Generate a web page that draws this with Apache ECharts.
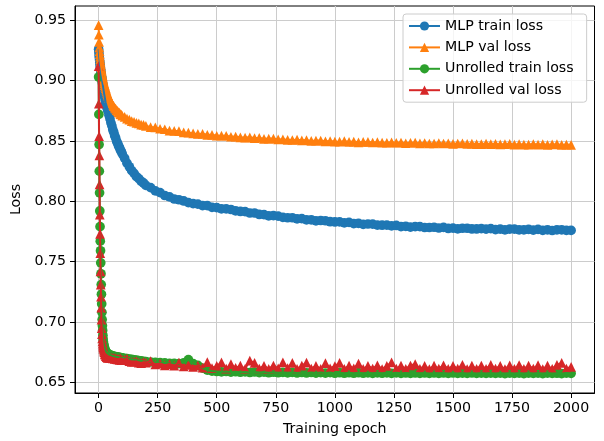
<!DOCTYPE html>
<html>
<head>
<meta charset="utf-8">
<script src="https://cdn.jsdelivr.net/npm/echarts@6/dist/echarts.min.js"></script>
<style>
html, body { margin: 0; padding: 0; background: #fff; }
#chart { width: 604px; height: 441px; }
</style>
</head>
<body>
<div id="chart"></div>
<script>
// sampled epochs: dense at the start where the curves fall fast
var epochs = [
    0, 1, 2, 3, 4, 5, 6, 7, 8, 9,
    10, 11, 12, 13, 14, 15, 16, 17, 18, 19,
    20,
    22, 24, 26, 28, 30, 32, 34, 36, 38, 40,
    44, 48, 52, 56, 60, 64, 68, 72, 76, 80, 84, 88, 92, 96, 100,
    110, 120, 130, 140, 150, 160, 170, 180, 190, 200,
    220, 240, 260, 280, 300, 320, 340, 360, 380, 400,
    420, 440, 460, 480, 500, 520, 540, 560, 580, 600,
    620, 640, 660, 680, 700, 720, 740, 760, 780, 800,
    820, 840, 860, 880, 900, 920, 940, 960, 980, 1000,
    1020, 1040, 1060, 1080, 1100, 1120, 1140, 1160, 1180, 1200,
    1220, 1240, 1260, 1280, 1300, 1320, 1340, 1360, 1380, 1400,
    1420, 1440, 1460, 1480, 1500, 1520, 1540, 1560, 1580, 1600,
    1620, 1640, 1660, 1680, 1700, 1720, 1740, 1760, 1780, 1800,
    1820, 1840, 1860, 1880, 1900, 1920, 1940, 1960, 1980, 2000
];

var mlpTrain = [
    0.926, 0.9236, 0.9213, 0.9191, 0.917, 0.915, 0.9131, 0.9113, 0.9096, 0.908,
    0.9065, 0.9051, 0.9037, 0.9024, 0.9011, 0.8998, 0.8985, 0.8972, 0.8959, 0.8946,
    0.8933,
    0.8907, 0.8884, 0.8861, 0.8838, 0.8815, 0.8801, 0.8787, 0.8773, 0.8759, 0.8745,
    0.8713, 0.8683, 0.8650, 0.8625, 0.8593, 0.8572, 0.8544, 0.8525, 0.8499, 0.8482, 0.8460, 0.8446, 0.8425, 0.8413, 0.8393,
    0.8357, 0.8316, 0.8286, 0.8254, 0.8232, 0.8204, 0.8188, 0.8166, 0.8152, 0.8132,
    0.8113, 0.8086, 0.8072, 0.8048, 0.8037, 0.8019, 0.8013, 0.8003, 0.7989, 0.7981,
    0.7977, 0.7965, 0.7964, 0.7950, 0.7948, 0.7937, 0.7937, 0.7932, 0.7921, 0.7916,
    0.7914, 0.7903, 0.7903, 0.7891, 0.7890, 0.7880, 0.7881, 0.7877, 0.7867, 0.7864,
    0.7864, 0.7855, 0.7857, 0.7846, 0.7847, 0.7838, 0.7841, 0.7839, 0.7831, 0.7829,
    0.7830, 0.7822, 0.7825, 0.7815, 0.7817, 0.7809, 0.7812, 0.7811, 0.7803, 0.7802,
    0.7803, 0.7796, 0.7800, 0.7791, 0.7793, 0.7786, 0.7790, 0.7790, 0.7783, 0.7783,
    0.7785, 0.7779, 0.7784, 0.7775, 0.7778, 0.7772, 0.7777, 0.7777, 0.7771, 0.7771,
    0.7774, 0.7769, 0.7774, 0.7766, 0.7769, 0.7764, 0.7769, 0.7769, 0.7764, 0.7764,
    0.7768, 0.7762, 0.7768, 0.7760, 0.7764, 0.7758, 0.7764, 0.7764, 0.7759, 0.7759
];

var mlpVal = [
    0.946, 0.938, 0.932, 0.9275, 0.9245, 0.922, 0.9198, 0.9178, 0.916, 0.9143,
    0.9127, 0.9112, 0.9098, 0.9085, 0.9072, 0.906, 0.9048, 0.9037, 0.9026, 0.9016,
    0.9006,
    0.8991, 0.8977, 0.8963, 0.895, 0.8937, 0.8924, 0.8911, 0.8898, 0.8886, 0.8875,
    0.8857, 0.8843, 0.8825, 0.8814, 0.8798, 0.8789, 0.8775, 0.8768, 0.8756, 0.8750, 0.8739, 0.8734, 0.8723, 0.8719, 0.8709,
    0.8699, 0.8685, 0.8677, 0.8664, 0.8659, 0.8649, 0.8645, 0.8636, 0.8633, 0.8625,
    0.8615, 0.8612, 0.8601, 0.8597, 0.8586, 0.8584, 0.8581, 0.8571, 0.8569, 0.8562,
    0.8558, 0.8559, 0.8551, 0.8551, 0.8543, 0.8544, 0.8543, 0.8535, 0.8536, 0.8530,
    0.8528, 0.8530, 0.8524, 0.8525, 0.8518, 0.8520, 0.8520, 0.8513, 0.8514, 0.8509,
    0.8508, 0.8511, 0.8505, 0.8507, 0.8500, 0.8503, 0.8503, 0.8497, 0.8499, 0.8495,
    0.8494, 0.8498, 0.8493, 0.8495, 0.8489, 0.8492, 0.8493, 0.8487, 0.8490, 0.8486,
    0.8485, 0.8489, 0.8485, 0.8487, 0.8481, 0.8485, 0.8486, 0.8480, 0.8483, 0.8479,
    0.8479, 0.8483, 0.8479, 0.8481, 0.8476, 0.8479, 0.8481, 0.8475, 0.8478, 0.8474,
    0.8474, 0.8478, 0.8474, 0.8476, 0.8471, 0.8474, 0.8476, 0.8470, 0.8473, 0.8470,
    0.8470, 0.8474, 0.8470, 0.8473, 0.8468, 0.8471, 0.8473, 0.8467, 0.8470, 0.8467
];

var unrolledTrain = [
    0.903, 0.872, 0.847, 0.825, 0.807, 0.792, 0.779, 0.767, 0.759, 0.749,
    0.740, 0.731, 0.723, 0.715, 0.708, 0.702, 0.697, 0.693, 0.689, 0.686,
    0.6838,
    0.6815, 0.6795, 0.678, 0.6768, 0.6758, 0.675, 0.6745, 0.674, 0.6737, 0.6735,
    0.6731, 0.6727, 0.6724, 0.6721, 0.6718, 0.6716, 0.6714, 0.6713, 0.6711, 0.6710, 0.6708, 0.6707, 0.6705, 0.6704, 0.6703,
    0.6700, 0.6697, 0.6693, 0.6690, 0.6687, 0.6684, 0.6681, 0.6678, 0.6675, 0.6673,
    0.6669, 0.6666, 0.6663, 0.6661, 0.6658, 0.6657, 0.6655, 0.6662, 0.6688, 0.6655,
    0.6641, 0.6618, 0.6601, 0.6594, 0.6590, 0.6587, 0.6590, 0.6585, 0.6588, 0.6584,
    0.6587, 0.6582, 0.6586, 0.6581, 0.6585, 0.6580, 0.6584, 0.6580, 0.6583, 0.6579,
    0.6583, 0.6578, 0.6582, 0.6578, 0.6582, 0.6577, 0.6581, 0.6577, 0.6581, 0.6576,
    0.6580, 0.6576, 0.6580, 0.6576, 0.6580, 0.6576, 0.6579, 0.6575, 0.6579, 0.6576,
    0.6579, 0.6575, 0.6579, 0.6575, 0.6578, 0.6575, 0.6578, 0.6575, 0.6578, 0.6574,
    0.6578, 0.6575, 0.6578, 0.6574, 0.6578, 0.6574, 0.6577, 0.6574, 0.6578, 0.6574,
    0.6577, 0.6574, 0.6577, 0.6574, 0.6577, 0.6573, 0.6577, 0.6574, 0.6577, 0.6573,
    0.6577, 0.6574, 0.6577, 0.6573, 0.6577, 0.6574, 0.6576, 0.6573, 0.6577, 0.6575
];

var unrolledVal = [
    0.912, 0.881, 0.854, 0.838, 0.814, 0.789, 0.773, 0.757, 0.742, 0.731,
    0.721, 0.712, 0.702, 0.695, 0.690, 0.6865, 0.684, 0.682, 0.6805, 0.679,
    0.6778,
    0.6762, 0.6750, 0.6736, 0.6730, 0.6720, 0.6718, 0.6709, 0.6712, 0.6703, 0.6708,
    0.6703, 0.6706, 0.6700, 0.6704, 0.6698, 0.6701, 0.6695, 0.6699, 0.6692, 0.6690, 0.6694, 0.6687, 0.6699, 0.6685, 0.6684,
    0.6688, 0.6697, 0.6676, 0.6670, 0.6672, 0.6675, 0.6664, 0.6660, 0.6668, 0.6664,
    0.6676, 0.6648, 0.6656, 0.6641, 0.6652, 0.6638, 0.6664, 0.6633, 0.6645, 0.6628,
    0.6640, 0.6622, 0.6668, 0.6618, 0.6636, 0.6665, 0.6614, 0.6652, 0.6620, 0.6638,
    0.6613, 0.6680, 0.6662, 0.6615, 0.6637, 0.6612, 0.6640, 0.6616, 0.6666, 0.6619,
    0.6661, 0.6613, 0.6638, 0.6664, 0.6615, 0.6636, 0.6612, 0.6660, 0.6617, 0.6635,
    0.6662, 0.6613, 0.6639, 0.6616, 0.6655, 0.6612, 0.6637, 0.6615, 0.6641, 0.6611,
    0.6636, 0.6666, 0.6614, 0.6638, 0.6612, 0.6640, 0.6652, 0.6613, 0.6637, 0.6611,
    0.6639, 0.6615, 0.6642, 0.6612, 0.6636, 0.6614, 0.6646, 0.6611, 0.6638, 0.6613,
    0.6640, 0.6612, 0.6645, 0.6614, 0.6637, 0.6611, 0.6641, 0.6613, 0.6644, 0.6612,
    0.6639, 0.6614, 0.6643, 0.6611, 0.6638, 0.6613, 0.6645, 0.6662, 0.6615, 0.6628
];

var xTicks = [0, 250, 500, 750, 1000, 1250, 1500, 1750, 2000];
var yTicks = [0.65, 0.70, 0.75, 0.80, 0.85, 0.90, 0.95];

var font = 'DejaVu Sans';
var fs = 14.2;

function pairs(vals) {
    return epochs.map(function (e, i) { return [e, vals[i]]; });
}

// line (legend icon + connecting line) and scatter (every marker) share a name
function lossSeries(name, vals, color, symbol) {
    return [
        {
            name: name,
            type: 'line',
            data: pairs(vals),
            symbol: symbol,
            symbolSize: 9.7,
            showSymbol: false,
            color: color,
            lineStyle: { color: color, width: 2 },
            itemStyle: { color: color, borderWidth: 0 },
            emphasis: { disabled: true },
            animation: false
        },
        {
            name: name,
            type: 'scatter',
            data: pairs(vals),
            symbol: symbol,
            symbolSize: 9.7,
            color: color,
            itemStyle: { color: color, opacity: 1, borderWidth: 0 },
            emphasis: { disabled: true },
            animation: false
        }
    ];
}

var chart = echarts.init(document.getElementById('chart'));
var option = {
    backgroundColor: '#fff',
    animation: false,
    grid: {
        left: 75, right: 9.5, top: 6, bottom: 47,
        show: true, borderColor: '#000', borderWidth: 1
    },
    legend: {
        orient: 'vertical',
        left: 403, top: 14,
        padding: [4, 13, 4, 5],
        itemWidth: 31, itemHeight: 11.5, itemGap: 5.4, itemTextGap: 12,
        backgroundColor: 'rgba(255,255,255,0.8)',
        borderColor: '#cccccc', borderWidth: 1, borderRadius: 3,
        textStyle: { fontFamily: font, fontSize: fs, color: '#000', lineHeight: 16 },
        data: ['MLP train loss', 'MLP val loss', 'Unrolled train loss', 'Unrolled val loss']
    },
    xAxis: {
        type: 'value',
        min: -100, max: 2099,
        name: 'Training epoch', nameLocation: 'middle', nameGap: 29,
        nameTextStyle: { fontFamily: font, fontSize: fs, color: '#000' },
        axisLine: { show: true, onZero: false, lineStyle: { color: '#000', width: 1 } },
        axisTick: { show: true, customValues: xTicks, length: 5, lineStyle: { color: '#000', width: 1 } },
        axisLabel: {
            customValues: xTicks, color: '#000', fontFamily: font, fontSize: fs, margin: 8,
            formatter: function (v) { return String(v); }
        },
        splitLine: { show: true, lineStyle: { color: '#cccccc', width: 1 } }
    },
    yAxis: {
        type: 'value',
        min: 0.6412, max: 0.9618,
        name: 'Loss', nameLocation: 'middle', nameGap: 48,
        nameTextStyle: { fontFamily: font, fontSize: fs, color: '#000' },
        axisLine: { show: true, onZero: false, lineStyle: { color: '#000', width: 1 } },
        axisTick: { show: true, customValues: yTicks, length: 5, lineStyle: { color: '#000', width: 1 } },
        axisLabel: {
            customValues: yTicks, color: '#000', fontFamily: font, fontSize: fs, margin: 9,
            formatter: function (v) { return v.toFixed(2); }
        },
        splitLine: { show: true, lineStyle: { color: '#cccccc', width: 1 } }
    },
    series: [].concat(
        lossSeries('MLP train loss', mlpTrain, '#1f77b4', 'circle'),
        lossSeries('MLP val loss', mlpVal, '#ff7f0e', 'triangle'),
        lossSeries('Unrolled train loss', unrolledTrain, '#2ca02c', 'circle'),
        lossSeries('Unrolled val loss', unrolledVal, '#d62728', 'triangle')
    )
};
chart.setOption(option);
window.onresize = chart.resize;
</script>
</body>
</html>
